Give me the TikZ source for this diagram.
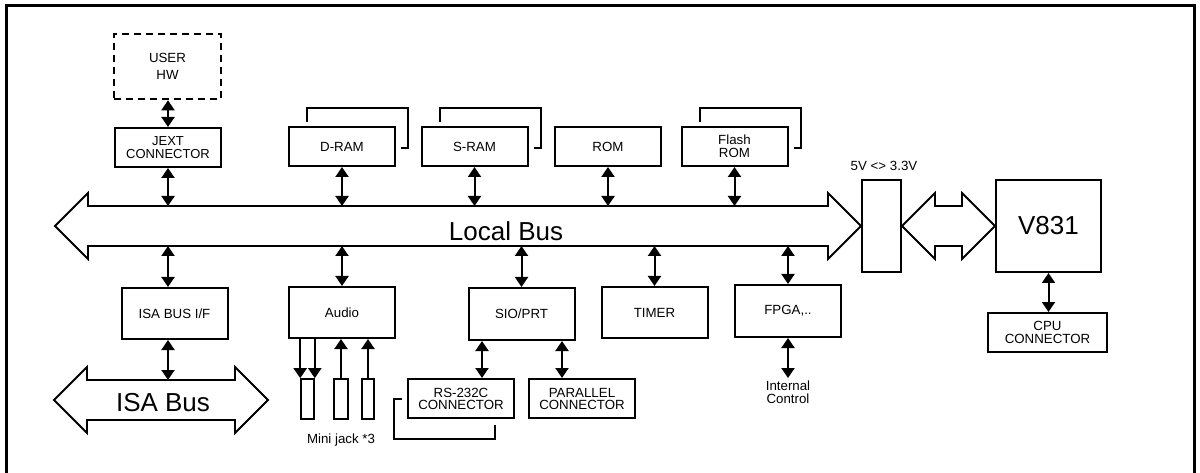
\documentclass[tikz,border=0pt]{standalone}
\usepackage{fontspec}
\setmainfont{Liberation Sans}
\usetikzlibrary{arrows.meta}
\usetikzlibrary{calc}
\usetikzlibrary{positioning}
\tikzset{
	% all sizes are in pt, y runs downwards
	block/.style={draw, line width=2pt, inner sep=0pt, align=center,
		minimum width=106pt, minimum height=39pt, font=\fontsize{13.3}{13}\selectfont},
	tallblock/.style={block, minimum height=51pt},
	userbox/.style={block, line width=2.6pt, dash pattern=on 7pt off 5pt,
		minimum width=107pt, minimum height=65pt, font=\fontsize{13.3}{17}\selectfont},
	jack/.style={draw, line width=1.6pt, inner sep=0pt, minimum width=13pt, minimum height=40pt},
	bidir/.style={line width=2pt, {Triangle[width=13pt,length=10pt]}-{Triangle[width=13pt,length=10pt]}},
	unidir/.style={line width=2pt, -{Triangle[width=13pt,length=10pt]}},
	stackline/.style={line width=2pt},
	busline/.style={line width=1.8pt, line join=miter},
	smalltext/.style={align=center, inner sep=0pt, font=\fontsize{13.3}{12.7}\selectfont},
	bigtext/.style={inner sep=0pt, font=\fontsize{26}{26}\selectfont},
}
\newcommand{\busarrow}[2]{\draw[busline] (#1) -- ($(#1)+(33,-33)$) -- ($(#1)+(33,-20)$)
	-- ($(#2)+(-33,-20)$) -- ($(#2)+(-33,-33)$) -- (#2) -- ($(#2)+(-33,33)$)
	-- ($(#2)+(-33,20)$) -- ($(#1)+(33,20)$) -- ($(#1)+(33,33)$) -- cycle;}
\newcommand{\ramstack}[1]{\draw[stackline] ($(#1.north west)+(19,-4)$)
	|- ($(#1.north east)+(12,-18)$) |- ($(#1.east)+(5,2)$);}

\begin{document}
\begin{tikzpicture}[x=1pt, y=-1pt]
	\useasboundingbox (0,0) rectangle (1200,473);
	\draw[line width=3pt] (6.5,480) |- (1194,5.5) -- (1194,480);

	\node[userbox] (userhw) at (167.5,66.5) {USER\\HW};
	\node[block, font=\fontsize{13}{13.3}\selectfont] (jext) at (168,147.5) {JEXT\\CONNECTOR};
	\node[block] (dram) at (342,146.5) {D-RAM};
	\node[block] (sram) at (474.5,146.5) {S-RAM};
	\node[block] (rom) at (608,146.5) {ROM};
	\node[block, font=\fontsize{13.3}{13.3}\selectfont] (flash) at (734.5,146.5) {Flash\\ROM};
	\ramstack{dram}
	\ramstack{sram}
	\ramstack{flash}

	\node[draw, line width=2pt, inner sep=0pt, minimum width=39pt, minimum height=92pt] (conv) at (881.5,226) {};
	\node[smalltext] (convlabel) at (884,166) {5V <> 3.3V};
	\node[draw, line width=2pt, inner sep=0pt, minimum width=105pt, minimum height=92pt,
		font=\fontsize{26}{26}\selectfont] (v831) at (1048.5,226) {V831};
	\node[block, minimum width=119pt, font=\fontsize{13.3}{12.7}\selectfont] (cpu) at (1047.5,332.5) {CPU\\CONNECTOR};

	\coordinate (lbleft) at (55,226);
	\coordinate (lbtop) at (0,206);
	\coordinate (lbbot) at (0,246);
	\busarrow{lbleft}{conv.west}
	\busarrow{conv.east}{v831.west}
	\node[bigtext] (lbus) at (506,231.5) {Local Bus};

	\draw[bidir] (jext.north |- userhw.south) -- (jext.north);
	\foreach \n in {jext,dram,sram,rom,flash}
		\draw[bidir] (\n.south) -- (\n.south |- lbtop);
	\draw[bidir] (v831.south) -- (v831.south |- cpu.north);

	\node[tallblock] (isaif) at (174.5,313.5) {ISA BUS I/F};
	\node[tallblock] (audio) at (342,312.5) {Audio};
	\node[tallblock, minimum height=52pt] (sio) at (521.5,314) {SIO/PRT};
	\node[tallblock] (timer) at (654.5,312.5) {TIMER};
	\node[tallblock, minimum height=52pt] (fpga) at (788,311) {FPGA,..};
	\draw[bidir] (isaif.north -| jext.south) -- (lbbot -| jext.south);
	\foreach \n in {audio,sio,timer,fpga}
		\draw[bidir] (\n.north) -- (\n.north |- lbbot);

	\coordinate (isaleft) at (54,400);
	\coordinate (isaright) at (268,400);
	\coordinate (isatop) at (0,380);
	\busarrow{isaleft}{isaright}
	\node[bigtext] (isabus) at (163,403) {ISA Bus};
	\draw[bidir] (isaif.south -| jext.south) -- (isatop -| jext.south);

	\node[jack] (jacka) at (307.5,399) {};
	\node[jack, minimum width=14pt] (jackb) at (341,399) {};
	\node[jack, minimum width=12pt] (jackc) at (368,399) {};
	\node[smalltext] (jacklabel) at (341,440) {Mini jack *3};
	\draw[unidir] (audio.south -| jacka.north west) -- (jacka.north west);
	\draw[unidir] (audio.south -| jacka.north east) -- (jacka.north east);
	\draw[unidir] (jackb.north) -- (jackb.north |- audio.south);
	\draw[unidir] (jackc.north) -- (jackc.north |- audio.south);

	\node[block, font=\fontsize{13.3}{12}\selectfont] (rs232) at (461,398.5) {RS-232C\\CONNECTOR};
	\node[block, font=\fontsize{13.3}{12}\selectfont] (parallel) at (582,398.5) {PARALLEL\\CONNECTOR};
	\coordinate (rsport) at ($(rs232.north)+(21,0)$);
	\coordinate (parport) at ($(parallel.north)+(-20,0)$);
	\draw[bidir] (sio.south -| rsport) -- (rsport);
	\draw[bidir] (sio.south -| parport) -- (parport);
	\draw[stackline] ($(rs232.west)+(-5,0)$) -| ($(rs232.south west)+(-13,20)$)
		-| ($(rs232.south east)+(-20,6)$);

	\node[smalltext] (intctl) at (788,392) {Internal\\Control};
	\draw[bidir] (fpga.south) -- (fpga.south |- 0,378);
\end{tikzpicture}
\end{document}
